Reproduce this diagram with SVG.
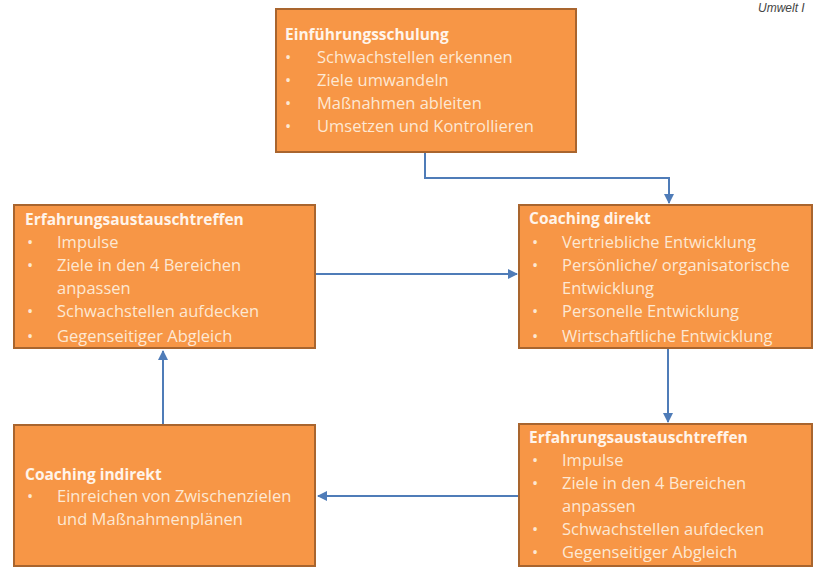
<svg xmlns="http://www.w3.org/2000/svg" width="816" height="567" viewBox="0 0 816 567">
<defs>
<style>
.box{fill:#f79646;stroke:#a9652e;stroke-width:2}
.t{font-family:"Open Sans","Liberation Sans",sans-serif;font-size:16.5px;fill:#fde8d3}
.h{font-weight:bold;font-size:15.5px;fill:#fff4ea}
.c{fill:none;stroke:#4f7cb8;stroke-width:2}
.hdr{font-family:"Liberation Sans",sans-serif;font-style:italic;font-size:12px;fill:#444}
</style>
<marker id="ah" viewBox="0 0 10 10" refX="9" refY="5" markerWidth="5" markerHeight="5" orient="auto-start-reverse" markerUnits="strokeWidth">
<path d="M0,0 L10,5 L0,10 z" fill="#4f7cb8"/>
</marker>
</defs>
<rect width="816" height="567" fill="#ffffff"/>
<text class="hdr" x="758" y="12">Umwelt I</text>

<g id="connectors">
<polyline class="c" points="425,152 425,178 669,178 669,203" marker-end="url(#ah)"/>
<line class="c" x1="316" y1="274" x2="517" y2="274" marker-end="url(#ah)"/>
<line class="c" x1="668" y1="349" x2="668" y2="422" marker-end="url(#ah)"/>
<line class="c" x1="518" y1="496" x2="318" y2="496" marker-end="url(#ah)"/>
<line class="c" x1="163" y1="424" x2="163" y2="351" marker-end="url(#ah)"/>
</g>

<g id="einfuehrungsschulung">
<rect class="box" x="276" y="9" width="300" height="143"/>
<text class="t h" x="285" y="40">Einführungsschulung</text>
<text class="t" x="285" y="63">•</text><text class="t" x="317" y="63">Schwachstellen erkennen</text>
<text class="t" x="285" y="86">•</text><text class="t" x="317" y="86">Ziele umwandeln</text>
<text class="t" x="285" y="109">•</text><text class="t" x="317" y="109">Maßnahmen ableiten</text>
<text class="t" x="285" y="132">•</text><text class="t" x="317" y="132">Umsetzen und Kontrollieren</text>
</g>

<g id="erfahrung-links">
<rect class="box" x="14" y="205" width="301" height="143"/>
<text class="t h" x="25" y="225">Erfahrungsaustauschtreffen</text>
<text class="t" x="27" y="248">•</text><text class="t" x="57" y="248">Impulse</text>
<text class="t" x="27" y="271">•</text><text class="t" x="57" y="271">Ziele in den 4 Bereichen</text>
<text class="t" x="57" y="294">anpassen</text>
<text class="t" x="27" y="317">•</text><text class="t" x="57" y="317">Schwachstellen aufdecken</text>
<text class="t" x="27" y="342">•</text><text class="t" x="57" y="342">Gegenseitiger Abgleich</text>
</g>

<g id="coaching-direkt">
<rect class="box" x="519" y="205" width="293" height="143"/>
<text class="t h" x="529" y="224">Coaching direkt</text>
<text class="t" x="532" y="248">•</text><text class="t" x="562" y="248">Vertriebliche Entwicklung</text>
<text class="t" x="532" y="271">•</text><text class="t" x="562" y="271">Persönliche/ organisatorische</text>
<text class="t" x="562" y="294">Entwicklung</text>
<text class="t" x="532" y="317">•</text><text class="t" x="562" y="317">Personelle Entwicklung</text>
<text class="t" x="532" y="342">•</text><text class="t" x="562" y="342">Wirtschaftliche Entwicklung</text>
</g>

<g id="coaching-indirekt">
<rect class="box" x="14" y="425" width="301" height="141"/>
<text class="t h" x="25" y="480">Coaching indirekt</text>
<text class="t" x="27" y="502">•</text><text class="t" x="57" y="502">Einreichen von Zwischenzielen</text>
<text class="t" x="57" y="525">und Maßnahmenplänen</text>
</g>

<g id="erfahrung-rechts">
<rect class="box" x="519" y="424" width="293" height="142"/>
<text class="t h" x="529" y="443">Erfahrungsaustauschtreffen</text>
<text class="t" x="532" y="466">•</text><text class="t" x="562" y="466">Impulse</text>
<text class="t" x="532" y="489">•</text><text class="t" x="562" y="489">Ziele in den 4 Bereichen</text>
<text class="t" x="562" y="512">anpassen</text>
<text class="t" x="532" y="535">•</text><text class="t" x="562" y="535">Schwachstellen aufdecken</text>
<text class="t" x="532" y="558">•</text><text class="t" x="562" y="558">Gegenseitiger Abgleich</text>
</g>
</svg>
